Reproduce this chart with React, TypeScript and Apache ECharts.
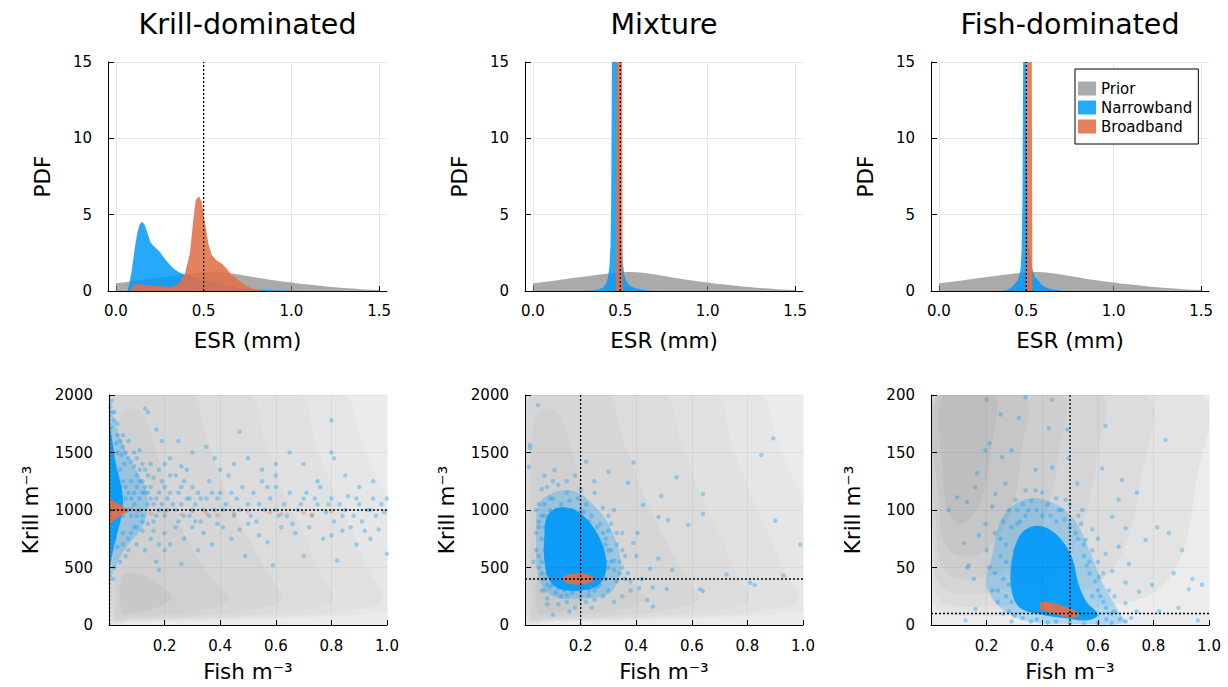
import React, { useEffect, useRef } from "react";
import * as echarts from "echarts";

type P = [number, number];

const FONT = "DejaVu Sans";
const PANEL_TITLES = ["Krill-dominated", "Mixture", "Fish-dominated"];
const ESR_TICKS = [0, 0.5, 1.0, 1.5];
const FISH_TICKS = [0.2, 0.4, 0.6, 0.8, 1.0];
const KRILL_MAX = [2000, 2000, 200];
const KRILL_INTERVAL = [500, 500, 50];
const TRUE_ESR = 0.5;
const TRUE_FISH = [0.002, 0.2, 0.5];
const TRUE_KRILL = [1000, 400, 10];

// ---------- top row: ESR posterior densities ----------
const PRIOR: P[] = [
  [0, 0.5], [0.05, 0.57], [0.1, 0.64], [0.15, 0.72], [0.2, 0.8], [0.25, 0.88], [0.3, 0.95],
  [0.35, 1.03], [0.4, 1.1], [0.45, 1.17], [0.5, 1.22], [0.55, 1.24], [0.6, 1.22], [0.65, 1.16],
  [0.7, 1.08], [0.75, 0.98], [0.8, 0.88], [0.85, 0.79], [0.9, 0.7], [0.95, 0.62], [1.0, 0.55],
  [1.05, 0.48], [1.1, 0.42], [1.15, 0.36], [1.2, 0.3], [1.25, 0.25], [1.3, 0.2], [1.35, 0.16],
  [1.4, 0.12], [1.45, 0.09], [1.5, 0.06],
];
const NB_KRILL: P[] = [
  [0.065, 0], [0.075, 0.4], [0.09, 1.3], [0.105, 2.6], [0.12, 3.7], [0.135, 4.35], [0.15, 4.55],
  [0.165, 4.3], [0.18, 3.8], [0.195, 3.25], [0.21, 3.0], [0.225, 2.85], [0.25, 2.55], [0.27, 2.25],
  [0.29, 1.95], [0.31, 1.68], [0.33, 1.45], [0.36, 1.22], [0.39, 1.08], [0.42, 1.0], [0.45, 0.9],
  [0.5, 0.72], [0.55, 0.55], [0.6, 0.4], [0.65, 0.3], [0.7, 0.2], [0.8, 0.1], [0.9, 0.05],
  [1.0, 0.02], [1.08, 0],
];
const BB_KRILL: P[] = [
  [0.08, 0], [0.1, 0.4], [0.128, 0.44], [0.223, 0.33], [0.318, 0.28], [0.356, 0.46], [0.394, 1.16],
  [0.422, 2.5], [0.441, 4.65], [0.455, 5.96], [0.474, 6.2], [0.489, 5.85], [0.508, 4.43],
  [0.527, 3.1], [0.546, 2.36], [0.574, 1.99], [0.603, 1.8], [0.631, 1.48], [0.66, 1.05],
  [0.698, 0.72], [0.736, 0.39], [0.774, 0.17], [0.812, 0.07], [0.85, 0],
];
const NB_MIX: P[] = [
  [0.29, 0], [0.33, 0.03], [0.37, 0.08], [0.4, 0.22], [0.42, 0.5], [0.43, 0.95], [0.438, 1.6],
  [0.444, 3], [0.448, 6], [0.452, 15], [0.46, 28], [0.47, 34], [0.48, 30], [0.488, 18], [0.495, 8],
  [0.505, 3.5], [0.512, 2.2], [0.517, 1.6], [0.522, 1.1], [0.53, 0.75], [0.55, 0.4], [0.58, 0.2],
  [0.62, 0.1], [0.66, 0.04], [0.69, 0],
];
const BB_MIX: P[] = [
  [0.474, 0], [0.476, 6], [0.478, 16], [0.485, 30], [0.503, 30], [0.51, 16], [0.512, 6], [0.514, 0],
];
const NB_FISH: P[] = [
  [0.36, 0], [0.39, 0.05], [0.41, 0.2], [0.43, 0.4], [0.45, 0.68], [0.46, 1.0], [0.467, 1.4],
  [0.473, 2.5], [0.478, 6], [0.482, 15], [0.488, 28], [0.494, 28], [0.499, 15], [0.505, 7],
  [0.515, 3], [0.528, 1.8], [0.54, 1.2], [0.55, 0.9], [0.567, 0.72], [0.585, 0.45], [0.605, 0.28],
  [0.64, 0.12], [0.68, 0.05], [0.71, 0],
];
const BB_FISH: P[] = [
  [0.499, 0], [0.5, 8], [0.502, 18], [0.51, 30], [0.525, 30], [0.531, 18], [0.533, 8], [0.535, 0],
];
const NB_DENS = [NB_KRILL, NB_MIX, NB_FISH];
const BB_DENS = [BB_KRILL, BB_MIX, BB_FISH];

// ---------- bottom row: prior contour bands (outermost first) ----------
const PRIOR_CONTOUR_KM: P[][] = [
  [[0.003, 25], [0.003, 2000], [0.84, 2000], [0.9, 1650], [0.97, 1250], [1.05, 850], [1.1, 500], [1.17, 240], [1.0, 120], [0.7, 65], [0.4, 40], [0.1, 28]],
  [[0.006, 35], [0.006, 2000], [0.68, 2000], [0.74, 1600], [0.81, 1150], [0.88, 780], [0.94, 450], [0.985, 240], [0.96, 170], [0.8, 105], [0.55, 65], [0.3, 45], [0.08, 35]],
  [[0.01, 45], [0.01, 2000], [0.5, 2000], [0.56, 1600], [0.63, 1150], [0.7, 780], [0.76, 450], [0.805, 240], [0.78, 175], [0.65, 115], [0.45, 75], [0.25, 52], [0.08, 42]],
  [[0.015, 60], [0.015, 2000], [0.3, 2000], [0.34, 1700], [0.4, 1300], [0.47, 900], [0.54, 580], [0.6, 340], [0.625, 240], [0.6, 180], [0.5, 125], [0.35, 85], [0.2, 60], [0.08, 50]],
  [[0.025, 80], [0.025, 1650], [0.05, 1840], [0.09, 1880], [0.13, 1800], [0.17, 1500], [0.22, 1100], [0.28, 750], [0.34, 500], [0.4, 320], [0.432, 240], [0.41, 185], [0.35, 140], [0.25, 100], [0.12, 72], [0.05, 68]],
  [[0.045, 110], [0.045, 420], [0.08, 455], [0.12, 440], [0.16, 390], [0.2, 310], [0.228, 245], [0.21, 195], [0.17, 150], [0.12, 115], [0.07, 100]],
];
const PRIOR_COLORS_KM = ["#e6e6e6", "#e1e1e1", "#dcdcdc", "#d6d6d6", "#d0d0d0", "#c8c8c8"];
const PRIOR_CONTOUR_F: P[][] = [
  [[0.004, 200], [0.004, 25], [0.03, 12], [0.15, 8], [0.4, 10], [0.6, 15], [0.8, 28], [0.9, 60], [0.95, 120], [0.97, 200]],
  [[0.008, 200], [0.008, 40], [0.03, 22], [0.1, 16], [0.3, 18], [0.5, 26], [0.62, 40], [0.7, 70], [0.75, 120], [0.77, 200]],
  [[0.012, 200], [0.012, 60], [0.03, 35], [0.1, 27], [0.25, 30], [0.4, 40], [0.5, 60], [0.56, 100], [0.6, 150], [0.61, 200]],
  [[0.02, 200], [0.02, 80], [0.04, 50], [0.1, 40], [0.2, 42], [0.3, 52], [0.38, 75], [0.43, 110], [0.46, 150], [0.47, 200]],
  [[0.03, 200], [0.03, 100], [0.05, 70], [0.1, 60], [0.18, 63], [0.25, 80], [0.3, 110], [0.325, 150], [0.335, 200]],
  [[0.045, 200], [0.045, 130], [0.06, 100], [0.1, 88], [0.15, 95], [0.19, 115], [0.215, 150], [0.225, 200]],
];
const PRIOR_COLORS_F = ["#e3e3e3", "#dcdcdc", "#d5d5d5", "#cecece", "#c6c6c6", "#bebebe"];
const PRIOR_BASE = ["#ebebeb", "#ebebeb", "#ececec"];

// ---------- bottom row: posterior samples ----------
const NB_HALO_KRILL: P[] = [
  [0, 1900], [0.03, 1700], [0.07, 1450], [0.12, 1250], [0.14, 1050], [0.12, 850], [0.07, 700], [0.03, 550], [0, 380],
];
const NB_CORE_KRILL: P[] = [
  [0, 1750], [0.012, 1600], [0.025, 1400], [0.04, 1250], [0.05, 1100], [0.045, 950], [0.03, 800], [0.015, 650], [0, 500],
];
const NB_PTS_KRILL: P[] = [
  [0.005, 1900], [0.01, 1950], [0.012, 1850], [0.02, 1780], [0.008, 1720], [0.03, 1650], [0.025, 1580], [0.04, 1600],
  [0.05, 1550], [0.045, 1480], [0.06, 1500], [0.07, 1450], [0.055, 1400], [0.08, 1420], [0.09, 1380], [0.1, 1450],
  [0.11, 1520], [0.12, 1400], [0.13, 1350], [0.1, 1300], [0.12, 1250], [0.14, 1300], [0.15, 1200], [0.16, 1280],
  [0.13, 1150], [0.11, 1100], [0.14, 1050], [0.17, 1100], [0.18, 1150], [0.19, 1250], [0.2, 1200], [0.21, 1100],
  [0.22, 1300], [0.23, 1050], [0.25, 1150], [0.27, 1250], [0.26, 1050], [0.28, 1100], [0.3, 1200], [0.32, 1150],
  [0.29, 950], [0.31, 1050], [0.33, 900], [0.35, 1100], [0.36, 1250], [0.38, 1000], [0.4, 1150], [0.42, 1050],
  [0.43, 1300], [0.45, 950], [0.46, 1100], [0.48, 1200], [0.5, 1050], [0.52, 1150], [0.53, 900], [0.55, 1250],
  [0.56, 1000], [0.58, 1100], [0.6, 1200], [0.61, 950], [0.63, 1050], [0.65, 1150], [0.66, 880], [0.68, 1000],
  [0.7, 1100], [0.71, 1150], [0.73, 950], [0.75, 1050], [0.76, 1200], [0.78, 980], [0.8, 1100], [0.81, 900],
  [0.83, 1050], [0.85, 1000], [0.86, 1120], [0.88, 950], [0.9, 1050], [0.91, 900], [0.93, 1000], [0.95, 1100],
  [0.96, 950], [0.98, 1050], [1.0, 1100], [0.99, 980],
  [0.02, 750], [0.03, 680], [0.05, 800], [0.07, 750], [0.09, 850], [0.06, 600], [0.1, 700], [0.12, 820],
  [0.13, 650], [0.15, 750], [0.16, 900], [0.17, 550], [0.18, 480], [0.2, 800], [0.22, 700], [0.24, 850],
  [0.26, 530], [0.27, 750], [0.3, 850], [0.32, 650], [0.34, 800], [0.37, 700], [0.39, 880], [0.41, 850],
  [0.44, 750], [0.47, 830], [0.49, 600], [0.5, 880], [0.54, 780], [0.57, 720], [0.59, 520], [0.62, 850],
  [0.67, 800], [0.7, 600], [0.72, 850], [0.77, 750], [0.8, 780], [0.82, 560], [0.84, 820], [0.87, 850],
  [0.89, 700], [0.92, 820], [0.94, 750], [0.97, 830], [1.0, 620],
  [0.14, 1850], [0.13, 1880], [0.19, 1600], [0.25, 1600], [0.3, 1500], [0.35, 1550], [0.4, 1350], [0.47, 1680],
  [0.5, 1450], [0.55, 1350], [0.6, 1300], [0.65, 1500], [0.7, 1400], [0.75, 1250], [0.8, 1780], [0.8, 1500],
  [0.81, 1450], [0.85, 1300], [0.9, 1200], [0.95, 1250], [0.6, 1400], [0.45, 1400], [0.38, 1450], [0.28, 1350],
  [0.22, 1450], [0.17, 1700],
  [0.02, 1300], [0.04, 1200], [0.06, 1100], [0.08, 1250], [0.03, 900], [0.05, 950], [0.07, 1000], [0.09, 1050],
  [0.1, 950], [0.11, 1000], [0.12, 900], [0.08, 800], [0.04, 550], [0.02, 500], [0.015, 400], [0.01, 1200],
  [0.02, 1100], [0.03, 1000],
  [0.04, 1350], [0.05, 1250], [0.06, 1200], [0.07, 1150], [0.08, 1100], [0.09, 1150], [0.1, 1200], [0.11, 1250],
  [0.12, 1150], [0.13, 1200], [0.14, 1150], [0.15, 1100], [0.16, 1050], [0.17, 950], [0.18, 1000], [0.19, 1050],
  [0.2, 950], [0.21, 1000], [0.22, 1150], [0.24, 1000], [0.25, 900], [0.26, 1200], [0.27, 950], [0.29, 1100],
  [0.3, 1000], [0.31, 900], [0.33, 1100], [0.34, 1000], [0.36, 950], [0.37, 1150], [0.39, 1100], [0.41, 1000],
  [0.44, 1150], [0.47, 1000], [0.51, 950], [0.54, 1050], [0.57, 1200], [0.6, 1000], [0.64, 950], [0.69, 1050],
  [0.74, 1100], [0.79, 1050], [0.84, 950], [0.89, 1100], [0.94, 1000], [0.06, 1000], [0.08, 950], [0.1, 850],
  [0.12, 950], [0.14, 880], [0.16, 820], [0.18, 700], [0.2, 650], [0.07, 650], [0.05, 700], [0.03, 1500],
  [0.05, 1650], [0.07, 1600], [0.09, 1500], [0.11, 1350], [0.15, 1400], [0.18, 1350], [0.2, 1400], [0.24, 1300],
  [0.26, 1380], [0.03, 1750], [0.02, 1850],
];
const BB_CORE_KRILL: P[] = [
  [0, 1090], [0.02, 1075], [0.04, 1045], [0.06, 1010], [0.07, 990], [0.05, 965], [0.03, 930], [0.015, 900], [0, 885],
];
const BB_PTS_KRILL: P[] = [
  [0.1, 990], [0.15, 970], [0.2, 985], [0.26, 960], [0.3, 990], [0.35, 975], [0.39, 955], [0.45, 970],
  [0.5, 990], [0.58, 980], [0.62, 965], [0.7, 975], [0.73, 960], [0.8, 990], [0.04, 1010], [0.06, 990], [0.08, 1005],
];

const NB_HALO_MIX: P[] = [
  [0.05, 1050], [0.1, 1150], [0.17, 1170], [0.24, 1060], [0.3, 880], [0.34, 620], [0.34, 420], [0.3, 270],
  [0.2, 230], [0.1, 250], [0.05, 400], [0.04, 750],
];
const NB_CORE_MIX: P[] = [
  [0.08, 950], [0.12, 1020], [0.18, 1000], [0.23, 900], [0.27, 750], [0.29, 600], [0.29, 450], [0.26, 340],
  [0.2, 300], [0.13, 310], [0.09, 380], [0.07, 550], [0.07, 800],
];
const NB_PTS_MIX: P[] = [
  [0.046, 1913], [0.018, 1565], [0.018, 1540], [0.014, 1376], [0.106, 1348], [0.22, 1420], [0.3, 1333], [0.39, 1413],
  [0.545, 1284], [0.49, 1122], [0.64, 1140], [0.64, 966], [0.587, 870], [0.515, 913], [0.48, 940], [0.425, 1043],
  [0.37, 1237], [0.85, 1478], [0.893, 1623], [0.9, 907], [0.99, 700], [0.93, 430], [0.725, 440], [0.81, 367],
  [0.826, 348], [0.63, 310], [0.64, 296], [0.53, 478], [0.51, 313], [0.46, 327], [0.44, 217], [0.46, 160],
  [0.41, 320], [0.45, 490], [0.48, 578], [0.405, 800], [0.39, 713], [0.35, 800],
  [0.05, 1050], [0.04, 1000], [0.06, 1180], [0.08, 1200], [0.1, 1100], [0.12, 1220], [0.15, 1150], [0.18, 1300],
  [0.2, 1180], [0.22, 1050], [0.25, 1150], [0.28, 1020], [0.3, 950], [0.32, 1000], [0.27, 880], [0.3, 820],
  [0.33, 700], [0.35, 650], [0.32, 560], [0.3, 500], [0.34, 450], [0.36, 400], [0.38, 380], [0.33, 380],
  [0.3, 300], [0.28, 250], [0.25, 220], [0.22, 200], [0.2, 250], [0.18, 150], [0.15, 200], [0.12, 180],
  [0.1, 90], [0.08, 230], [0.06, 300], [0.07, 400], [0.05, 500], [0.04, 650], [0.06, 750], [0.05, 850],
  [0.03, 550], [0.07, 950], [0.09, 1000], [0.13, 1050], [0.17, 1000], [0.21, 980], [0.24, 950], [0.26, 700],
  [0.28, 600], [0.29, 400], [0.11, 280], [0.14, 300], [0.09, 330], [0.13, 250], [0.23, 300], [0.26, 330],
  [0.31, 650], [0.29, 700], [0.12, 1000], [0.16, 1080], [0.19, 1100], [0.07, 850], [0.08, 600],
  [0.06, 950], [0.07, 1050], [0.09, 1100], [0.11, 1000], [0.14, 1000], [0.2, 1000], [0.23, 900], [0.26, 850],
  [0.28, 800], [0.29, 750], [0.3, 650], [0.31, 550], [0.32, 480], [0.29, 550], [0.28, 480], [0.27, 350],
  [0.25, 300], [0.23, 260], [0.2, 300], [0.17, 280], [0.15, 260], [0.12, 320], [0.1, 350], [0.08, 350],
  [0.07, 300], [0.06, 450], [0.06, 550], [0.07, 650], [0.05, 600], [0.04, 800], [0.05, 900], [0.08, 450],
  [0.34, 550], [0.36, 600], [0.35, 500], [0.37, 450], [0.33, 800], [0.31, 880], [0.15, 1250], [0.1, 1250],
  [0.07, 1300], [0.25, 1250], [0.4, 600], [0.42, 400], [0.38, 300], [0.35, 250], [0.32, 200], [0.24, 150],
  [0.16, 120], [0.08, 180],
];
const BB_CORE_MIX: P[] = [
  [0.135, 405], [0.15, 435], [0.19, 448], [0.23, 435], [0.25, 400], [0.23, 365], [0.19, 352], [0.15, 365],
];

const NB_HALO_FISH: P[] = [
  [0.22, 60], [0.26, 95], [0.35, 110], [0.45, 105], [0.52, 90], [0.57, 65], [0.62, 35], [0.68, 10], [0.7, 2],
  [0.5, 1], [0.35, 3], [0.25, 15], [0.2, 35],
];
const NB_CORE_FISH: P[] = [
  [0.29, 55], [0.32, 78], [0.37, 86], [0.42, 84], [0.47, 74], [0.51, 57], [0.53, 36], [0.56, 20], [0.6, 9],
  [0.56, 4], [0.48, 6], [0.4, 9], [0.32, 15], [0.29, 30],
];
const NB_PTS_FISH: P[] = [
  [0.2, 196], [0.34, 198], [0.436, 196], [0.49, 170], [0.25, 183], [0.316, 180], [0.424, 171], [0.628, 173],
  [0.843, 161], [0.21, 158], [0.196, 152], [0.166, 132], [0.16, 120], [0.094, 111], [0.064, 100], [0.13, 107],
  [0.256, 146], [0.29, 152], [0.376, 135], [0.436, 137], [0.495, 145], [0.526, 123], [0.616, 136], [0.687, 126],
  [0.741, 115], [0.675, 109], [0.652, 94], [0.814, 85], [0.856, 80], [0.903, 65], [0.772, 74], [0.7, 84],
  [0.873, 45], [0.94, 40], [0.975, 35], [0.927, 31], [0.795, 35], [0.748, 29], [0.7, 19], [0.82, 12],
  [0.89, 15], [0.96, 4], [0.124, 4], [0.16, 14], [0.13, 50], [0.136, 52], [0.154, 40], [0.118, 71],
  [0.172, 78], [0.196, 88], [0.22, 103], [0.232, 114], [0.268, 123], [0.304, 109], [0.34, 117], [0.376, 117],
  [0.46, 100], [0.484, 109], [0.544, 100], [0.58, 83], [0.556, 74], [0.628, 62], [0.675, 68], [0.712, 53],
  [0.652, 47], [0.604, 42], [0.7, 37],
  [0.25, 60], [0.26, 40], [0.27, 25], [0.24, 20], [0.28, 12], [0.3, 8], [0.32, 90], [0.35, 100], [0.4, 95],
  [0.45, 90], [0.5, 85], [0.53, 75], [0.55, 60], [0.57, 45], [0.6, 30], [0.62, 20], [0.65, 10], [0.68, 5],
  [0.7, 3], [0.6, 2], [0.5, 2], [0.45, 3], [0.38, 5], [0.33, 6], [0.27, 70], [0.29, 85], [0.23, 45],
  [0.22, 30], [0.56, 52], [0.58, 25], [0.63, 15], [0.66, 25], [0.54, 88], [0.47, 100], [0.42, 105],
  [0.36, 108], [0.31, 100], [0.26, 90],
  [0.25, 75], [0.27, 55], [0.28, 35], [0.29, 20], [0.3, 65], [0.31, 88], [0.34, 95], [0.38, 100], [0.43, 95],
  [0.48, 92], [0.52, 80], [0.55, 70], [0.57, 55], [0.59, 38], [0.61, 25], [0.63, 5], [0.66, 12], [0.64, 30],
  [0.62, 45], [0.6, 55], [0.58, 65], [0.36, 3], [0.42, 2], [0.55, 1], [0.65, 2], [0.72, 6], [0.74, 12],
  [0.24, 30], [0.26, 10], [0.29, 3], [0.21, 50], [0.2, 65], [0.23, 80], [0.28, 100], [0.33, 105], [0.4, 115],
  [0.5, 105], [0.45, 110], [0.53, 95], [0.6, 75],
];
const BB_CORE_FISH: P[] = [
  [0.39, 17], [0.4, 20], [0.43, 19.5], [0.48, 16], [0.52, 12], [0.53, 8], [0.51, 6], [0.47, 8], [0.42, 11], [0.395, 13],
];

const NB_HALOS = [NB_HALO_KRILL, NB_HALO_MIX, NB_HALO_FISH];
const NB_CORES = [NB_CORE_KRILL, NB_CORE_MIX, NB_CORE_FISH];
const NB_PTS = [NB_PTS_KRILL, NB_PTS_MIX, NB_PTS_FISH];
const BB_CORES = [BB_CORE_KRILL, BB_CORE_MIX, BB_CORE_FISH];
const BB_PTS: P[][] = [BB_PTS_KRILL, [], []];

// ---------- styling ----------
const BLUE = "0,154,250";
const ORANGE = "227,111,71";
const TOP_GRIDS = [
  { left: 108, top: 62, width: 279, height: 229 },
  { left: 525, top: 62, width: 278, height: 229 },
  { left: 931, top: 62, width: 278, height: 229 },
];
const BOT_GRIDS = [
  { left: 109, top: 395, width: 278, height: 230 },
  { left: 525, top: 395, width: 278, height: 230 },
  { left: 931, top: 395, width: 278, height: 230 },
];

const labelStyle = { fontFamily: FONT, fontSize: 15, color: "#000" };
const nameStyle = { fontFamily: FONT, fontSize: 21.5, color: "#000" };

function polySeries(idx: number, polys: P[][], colors: string[], z = 1) {
  return {
    type: "custom",
    xAxisIndex: idx,
    yAxisIndex: idx,
    clip: true,
    silent: true,
    z,
    data: polys.map((p, i) => [p[0][0], p[0][1], i]),
    renderItem: (params: any, api: any) => {
      const i = params.dataIndex;
      const pts = polys[i].map((pt) => api.coord(pt));
      return { type: "polygon", z2: i, shape: { points: pts, smooth: 0.35 }, style: { fill: colors[i] } };
    },
  };
}

function dotted(idx: number, data: P[]) {
  return {
    type: "line",
    xAxisIndex: idx,
    yAxisIndex: idx,
    data,
    symbol: "none",
    silent: true,
    z: 6,
    lineStyle: { color: "#000", width: 1.3, type: [2, 2] },
  };
}

function buildOption() {
  const grid: any[] = [];
  const xAxis: any[] = [];
  const yAxis: any[] = [];
  const series: any[] = [];

  for (let i = 0; i < 3; i++) {
    grid.push({ ...TOP_GRIDS[i], containLabel: false });
    xAxis.push({
      type: "value", gridIndex: i, min: -0.045, max: 1.545,
      name: "ESR (mm)", nameLocation: "middle", nameGap: 38, nameTextStyle: nameStyle,
      axisLine: { show: true, onZero: false, lineStyle: { color: "#000", width: 1 } },
      axisTick: { show: true, inside: true, length: 5, customValues: ESR_TICKS, lineStyle: { color: "#000" } },
      axisLabel: { ...labelStyle, margin: 12, customValues: ESR_TICKS, formatter: (v: number) => v.toFixed(1) },
      splitLine: { show: true, lineStyle: { color: "#e8e8e8", width: 1 } },
    });
    yAxis.push({
      type: "value", gridIndex: i, min: 0, max: 15, interval: 5,
      name: "PDF", nameLocation: "middle", nameGap: 55, nameTextStyle: nameStyle,
      axisLine: { show: true, onZero: false, lineStyle: { color: "#000", width: 1 } },
      axisTick: { show: true, inside: true, length: 6, lineStyle: { color: "#000" } },
      axisLabel: { ...labelStyle, margin: 16, formatter: (v: number) => String(v) },
      splitLine: { show: true, lineStyle: { color: "#e8e8e8", width: 1 } },
    });
    const area = (name: string, data: P[], color: string, opacity: number) => ({
      type: "line", name, xAxisIndex: i, yAxisIndex: i, data, symbol: "none", silent: true,
      color, lineStyle: { width: 0, opacity: 0 }, areaStyle: { color, opacity },
    });
    series.push(area("Prior", PRIOR, "#808080", 0.67));
    series.push(area("Narrowband", NB_DENS[i], `rgb(${BLUE})`, 0.85));
    series.push(area("Broadband", BB_DENS[i], `rgb(${ORANGE})`, 0.88));
    series.push(dotted(i, [[TRUE_ESR, 0], [TRUE_ESR, 15]]));
  }

  for (let j = 0; j < 3; j++) {
    const i = j + 3;
    grid.push({ ...BOT_GRIDS[j], containLabel: false, show: true, backgroundColor: PRIOR_BASE[j], borderWidth: 0 });
    xAxis.push({
      type: "value", gridIndex: i, min: 0, max: 1, z: 5,
      name: "Fish m⁻³", nameLocation: "middle", nameGap: 35, nameTextStyle: nameStyle,
      axisLine: { show: true, onZero: false, lineStyle: { color: "#000", width: 1 } },
      axisTick: { show: true, inside: true, length: 5, customValues: FISH_TICKS, lineStyle: { color: "#000" } },
      axisLabel: { ...labelStyle, margin: 13, customValues: FISH_TICKS, formatter: (v: number) => v.toFixed(1) },
      splitLine: { show: true, lineStyle: { color: "rgba(0,0,0,0.05)", width: 1 } },
    });
    yAxis.push({
      type: "value", gridIndex: i, min: 0, max: KRILL_MAX[j], interval: KRILL_INTERVAL[j], z: 5,
      name: "Krill m⁻³", nameLocation: "middle", nameGap: 68, nameTextStyle: nameStyle,
      axisLine: { show: true, onZero: false, lineStyle: { color: "#000", width: 1 } },
      axisTick: { show: true, inside: true, length: 6, lineStyle: { color: "#000" } },
      axisLabel: { ...labelStyle, margin: 16, formatter: (v: number) => String(v) },
      splitLine: { show: true, lineStyle: { color: "rgba(0,0,0,0.05)", width: 1 } },
    });
    const polys = j === 2 ? PRIOR_CONTOUR_F : PRIOR_CONTOUR_KM;
    const cols = j === 2 ? PRIOR_COLORS_F : PRIOR_COLORS_KM;
    series.push(polySeries(i, polys, cols, 1));
    series.push(polySeries(i, [NB_HALOS[j]], [`rgba(${BLUE},0.26)`], 2));
    series.push({
      type: "scatter", xAxisIndex: i, yAxisIndex: i, data: NB_PTS[j], symbolSize: 4.5, silent: true, z: 3,
      itemStyle: { color: `rgba(${BLUE},0.42)` },
    });
    series.push(polySeries(i, [NB_CORES[j]], [`rgba(${BLUE},0.93)`], 3));
    if (BB_PTS[j].length) {
      series.push({
        type: "scatter", xAxisIndex: i, yAxisIndex: i, data: BB_PTS[j], symbolSize: 4.5, silent: true, z: 4,
        itemStyle: { color: `rgba(${ORANGE},0.4)` },
      });
    }
    series.push(polySeries(i, [BB_CORES[j]], [`rgba(${ORANGE},0.92)`], 4));
    series.push(dotted(i, [[TRUE_FISH[j], 0], [TRUE_FISH[j], KRILL_MAX[j]]]));
    series.push(dotted(i, [[0, TRUE_KRILL[j]], [1, TRUE_KRILL[j]]]));
  }

  const titles = PANEL_TITLES.map((t, i) => ({
    text: t,
    left: TOP_GRIDS[i].left + TOP_GRIDS[i].width / 2 - 5,
    top: 5,
    textAlign: "center",
    textStyle: { fontFamily: FONT, fontSize: 28.5, fontWeight: "normal", color: "#000" },
  }));

  return {
    animation: false,
    backgroundColor: "#fff",
    title: titles,
    grid,
    xAxis,
    yAxis,
    series,
    legend: {
      show: true,
      orient: "vertical",
      left: 1075,
      top: 69,
      padding: [12, 6, 10, 3],
      itemWidth: 18,
      itemHeight: 14,
      itemGap: 4,
      icon: "rect",
      backgroundColor: "#fff",
      borderColor: "#000",
      borderWidth: 1,
      borderRadius: 0,
      selectedMode: false,
      itemStyle: { borderWidth: 0 },
      lineStyle: { width: 0 },
      textStyle: { fontFamily: FONT, fontSize: 15, color: "#000" },
      data: [
        { name: "Prior", itemStyle: { color: "#aaaaaa" } },
        { name: "Narrowband", itemStyle: { color: "#26a9fb" } },
        { name: "Broadband", itemStyle: { color: "#e6805d" } },
      ],
    },
  };
}

export default function App() {
  const ref = useRef<HTMLDivElement>(null);
  useEffect(() => {
    if (!ref.current) return;
    const chart = echarts.init(ref.current, undefined, { renderer: "svg" });
    chart.setOption(buildOption() as any);
    return () => chart.dispose();
  }, []);
  return (
    <div
      ref={ref}
      style={{ position: "fixed", left: 0, top: 0, width: 1228, height: 687, background: "#fff" }}
    />
  );
}
